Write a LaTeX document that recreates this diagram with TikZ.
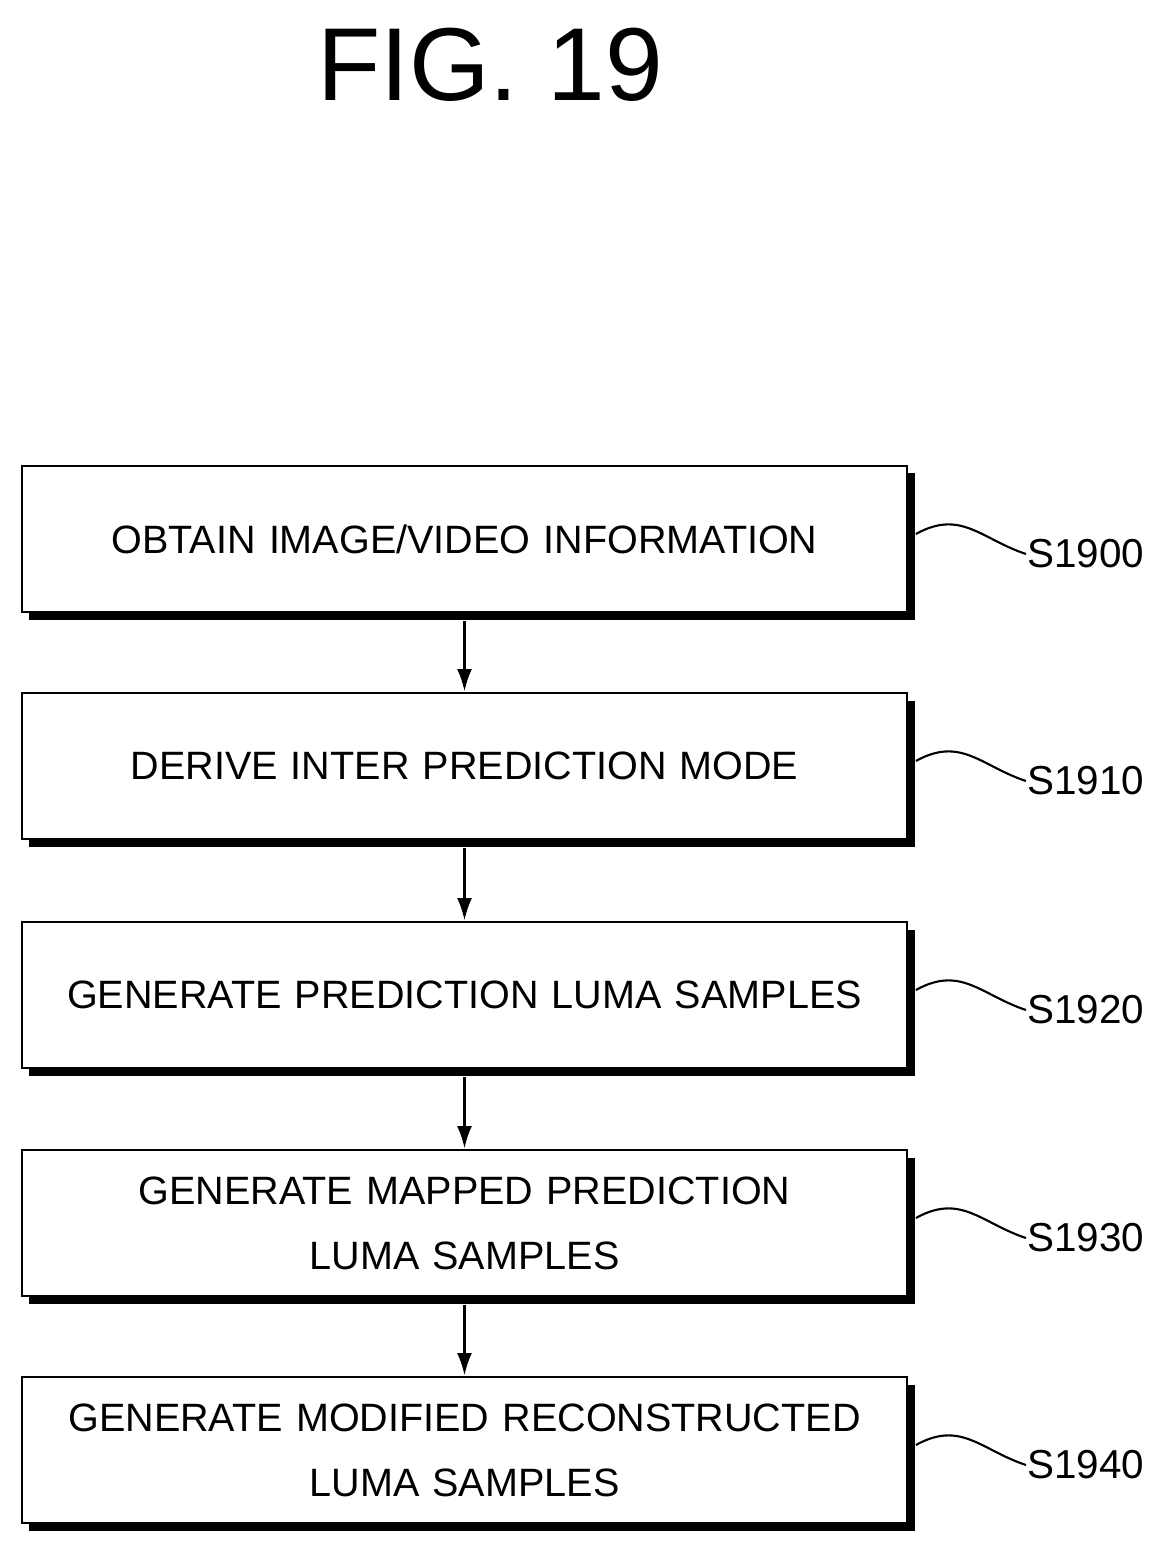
\documentclass[tikz,border=0pt]{standalone}
\usepackage{fontspec}
\setmainfont{Liberation Sans}
\usetikzlibrary{arrows.meta,shadows,positioning}
\begin{document}
\begin{tikzpicture}[line width=1.6pt,
        step_style/.style={draw=black,fill=white,minimum width=17.7cm,minimum height=2.92cm,
          text width=17.2cm,align=center,font=\fontsize{22.5}{37}\selectfont,inner sep=0pt,
          drop shadow={shadow xshift=0.15cm,shadow yshift=-0.15cm,fill=black,opacity=1}},
        tag_style/.style={font=\fontsize{23}{28}\selectfont,anchor=west,inner sep=0pt},
        flow_style/.style={draw=black,-{Latex[length=0.45cm,width=0.3cm]}},
        squig_style/.style={draw=black,line width=1.2pt}]
        \useasboundingbox (0,0) rectangle (23.28,-31.1);

        \node [font=\fontsize{59}{64}\selectfont] (title) at (9.8,-1.3) {FIG. 19};

        \node [step_style](n1) at (9.29,-10.78) {OBTAIN IMAGE/VIDEO INFORMATION};
        \node [step_style](n2) at (9.29,-15.32) {DERIVE INTER PREDICTION MODE};
        \node [step_style](n3) at (9.29,-19.9) {GENERATE PREDICTION LUMA SAMPLES};
        \node [step_style](n4) at (9.29,-24.46) {GENERATE MAPPED PREDICTION\\LUMA SAMPLES};
        \node [step_style](n5) at (9.29,-29.0) {GENERATE MODIFIED RECONSTRUCTED\\LUMA SAMPLES};

        \foreach \i/\j in {1/2,2/3,3/4,4/5}
          \draw [flow_style] ([yshift=-0.15cm]n\i.south) -- (n\j.north);

        \foreach \i/\t in {1/S1900,2/S1910,3/S1920,4/S1930,5/S1940} {
          \node [tag_style](s\i) at ([xshift=2.35cm,yshift=-0.3cm]n\i.east) {\t};
          \coordinate (c\i) at ([xshift=0.15cm,yshift=0.1cm]n\i.east);
          \draw [squig_style] (c\i) .. controls ++(0.9,0.5) and ++(-0.9,0.3) .. (s\i.west);
        }
\end{tikzpicture}
\end{document}
